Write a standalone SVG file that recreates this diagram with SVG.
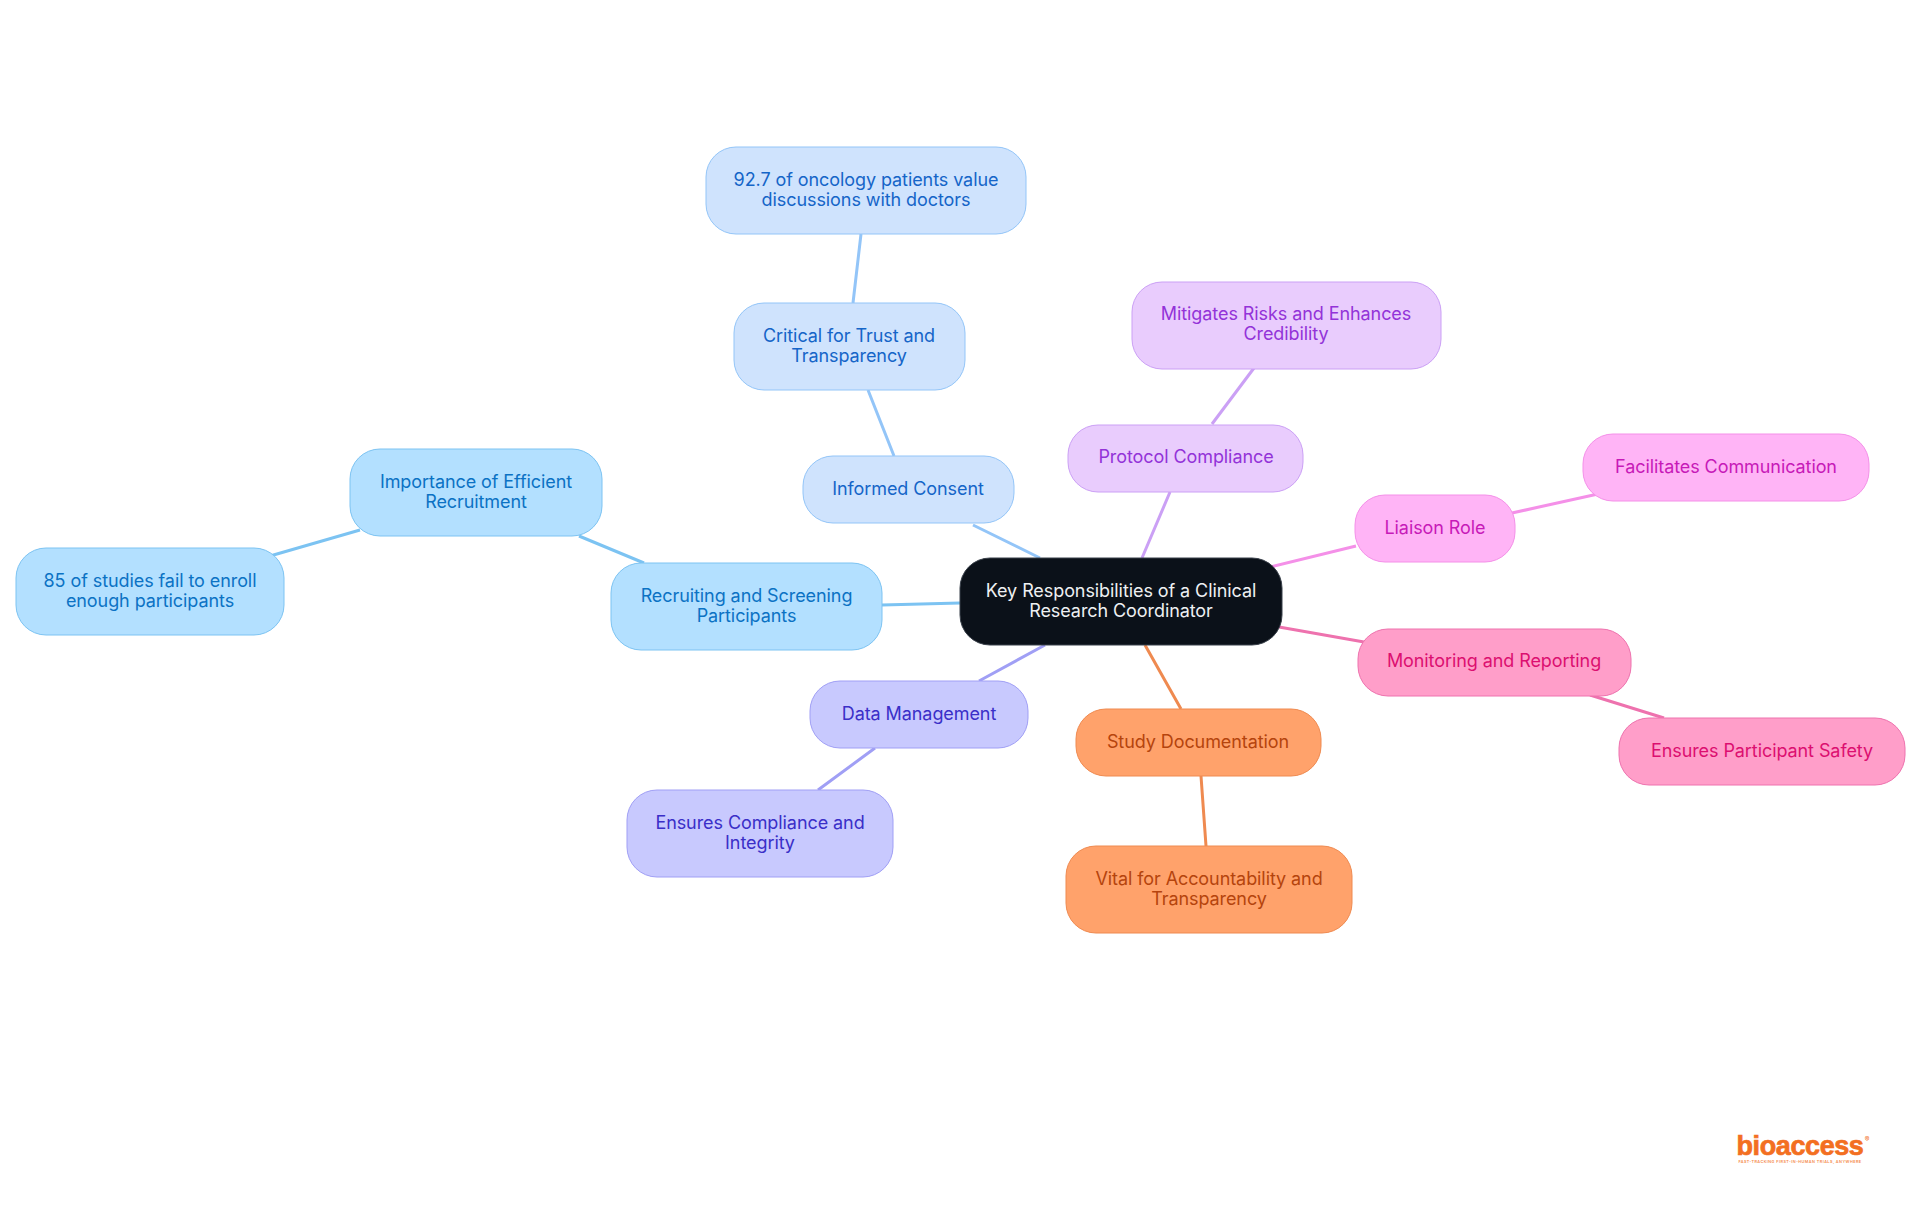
<svg xmlns="http://www.w3.org/2000/svg" width="1920" height="1215" viewBox="0 0 1920 1215">
<style>
text{font-family:"Inter","Noto Sans","Liberation Sans",sans-serif;font-size:18px;text-anchor:middle;letter-spacing:-.08px}
rect{stroke-width:1}
#connectors path{fill:none;stroke-width:3}
.a rect{fill:#b3e0ff;stroke:#7cc3f2}.a text{fill:#0b72c4}
.b rect{fill:#cfe3fd;stroke:#93c5f8}.b text{fill:#1565c8}
.c rect{fill:#e9ccfd;stroke:#cba0f5}.c text{fill:#9333d8}
.d rect{fill:#ffb4f6;stroke:#f490e8}.d text{fill:#c71ab8}
.e rect{fill:#ff9ec9;stroke:#ee72ae}.e text{fill:#dc0f70}
.f rect{fill:#ffa26b;stroke:#ef8a50}.f text{fill:#b5440d}
.g rect{fill:#c8c9fe;stroke:#a09ff5}.g text{fill:#3a2fc8}
</style>
<rect width="1920" height="1215" fill="#fff" stroke="none"/>
<g id="connectors">
<path d="M1040 558L973 525M894 456L868 390M853 303L861 234" stroke="#93c5f8"/>
<path d="M1142 558L1170 492M1212 424L1254 368" stroke="#cba0f5"/>
<path d="M1270 567L1356 546M1512 513L1598 494" stroke="#f490e8"/>
<path d="M1279 627L1364 642M1590 695L1664 718" stroke="#ee72ae"/>
<path d="M1145 645L1181 709M1201 776L1206 846" stroke="#ef8a50"/>
<path d="M1045 645L979 681M875 748L818 790" stroke="#a09ff5"/>
<path d="M960 603L882 605M644 563L579 536M360 530L270 556" stroke="#7cc3f2"/>
</g>
<g id="n0"><rect x="960" y="558" width="322" height="87" rx="30" fill="#0b1119" stroke="#39404a"/><text fill="#eef0f2"><tspan x="1121" y="597">Key Responsibilities of a Clinical</tspan><tspan x="1121" y="617">Research Coordinator</tspan></text></g>
<g id="n1" class="a"><rect x="611" y="563" width="271" height="87" rx="30"/><text><tspan x="746.500" y="602">Recruiting and Screening</tspan><tspan x="746.500" y="622">Participants</tspan></text></g>
<g id="n2" class="a"><rect x="350" y="449" width="252" height="87" rx="30"/><text><tspan x="476" y="488">Importance of Efficient</tspan><tspan x="476" y="508">Recruitment</tspan></text></g>
<g id="n3" class="a"><rect x="16" y="548" width="268" height="87" rx="30"/><text><tspan x="150" y="587">85 of studies fail to enroll</tspan><tspan x="150" y="607">enough participants</tspan></text></g>
<g id="n4" class="b"><rect x="803" y="456" width="211" height="67" rx="30"/><text><tspan x="908" y="495">Informed Consent</tspan></text></g>
<g id="n5" class="b"><rect x="734" y="303" width="231" height="87" rx="30"/><text><tspan x="849" y="342">Critical for Trust and</tspan><tspan x="849" y="362">Transparency</tspan></text></g>
<g id="n6" class="b"><rect x="706" y="147" width="320" height="87" rx="30"/><text><tspan x="866" y="186">92.7 of oncology patients value</tspan><tspan x="866" y="206">discussions with doctors</tspan></text></g>
<g id="n7" class="c"><rect x="1068" y="425" width="235" height="67" rx="30"/><text><tspan x="1186" y="463">Protocol Compliance</tspan></text></g>
<g id="n8" class="c"><rect x="1132" y="282" width="309" height="87" rx="30"/><text><tspan x="1286" y="320">Mitigates Risks and Enhances</tspan><tspan x="1286" y="340">Credibility</tspan></text></g>
<g id="n9" class="d"><rect x="1355" y="495" width="160" height="67" rx="30"/><text><tspan x="1435" y="534">Liaison Role</tspan></text></g>
<g id="n10" class="d"><rect x="1583" y="434" width="286" height="67" rx="30"/><text><tspan x="1726" y="473">Facilitates Communication</tspan></text></g>
<g id="n11" class="e"><rect x="1358" y="629" width="273" height="67" rx="30"/><text><tspan x="1494" y="667">Monitoring and Reporting</tspan></text></g>
<g id="n12" class="e"><rect x="1619" y="718" width="286" height="67" rx="30"/><text><tspan x="1762" y="757">Ensures Participant Safety</tspan></text></g>
<g id="n13" class="f"><rect x="1076" y="709" width="245" height="67" rx="30"/><text><tspan x="1198" y="748">Study Documentation</tspan></text></g>
<g id="n14" class="f"><rect x="1066" y="846" width="286" height="87" rx="30"/><text><tspan x="1209" y="885">Vital for Accountability and</tspan><tspan x="1209" y="905">Transparency</tspan></text></g>
<g id="n15" class="g"><rect x="810" y="681" width="218" height="67" rx="30"/><text><tspan x="919" y="720">Data Management</tspan></text></g>
<g id="n16" class="g"><rect x="627" y="790" width="266" height="87" rx="30"/><text><tspan x="760" y="829">Ensures Compliance and</tspan><tspan x="760" y="849">Integrity</tspan></text></g>
<g id="logo"><text x="1800" y="1155" style="font-family:'Liberation Sans',sans-serif;font-size:27px;font-weight:700;letter-spacing:-.4px;stroke:#f36f21;stroke-width:.7" fill="#f36f21">bioaccess</text><text x="1867" y="1142" style="font-size:7px" fill="#f36f21">®</text><text x="1800" y="1163" style="font-size:3.800px;font-weight:600;letter-spacing:.45px" fill="#f58a4b">FAST-TRACKING FIRST-IN-HUMAN TRIALS, ANYWHERE</text></g>
</svg>
